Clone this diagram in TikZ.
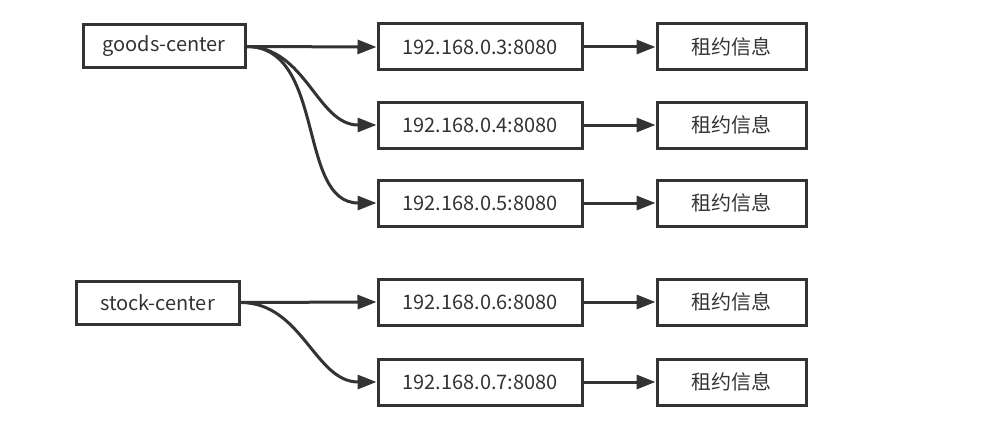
\documentclass[tikz,border=0pt]{standalone}
\usepackage{fontspec}
\setmainfont{Noto Sans CJK SC}
\usetikzlibrary{arrows.meta}
\definecolor{linegray}{HTML}{333333}
\tikzset{
  box/.style={draw=linegray, line width=3pt, inner sep=0pt, text=linegray,
    font=\fontsize{20}{24}\selectfont},
  link/.style={draw=linegray, line width=3pt, -{Triangle[length=19pt,width=14pt]}},
}
\begin{document}
\begin{tikzpicture}[x=1pt,y=-1pt]
  \useasboundingbox (0,0) rectangle (983,428);
  % services
  \node[box, minimum width=162pt, minimum height=43pt] (goods) at (164,46.5) {goods-center};
  \node[box, minimum width=163pt, minimum height=43pt] (stock) at (157.5,302.5) {stock-center};
  % instances and their lease info
  \foreach \i/\y in {3/47,4/125,5/203,6/302,7/382}{
    \node[box, minimum width=204pt, minimum height=46pt] (ip\i) at (480,\y) {192.168.0.\i:8080};
    \node[box, minimum width=149pt, minimum height=46pt] (info\i) at (731.5,\y) {租约信息};
    \draw[link] (ip\i) -- (info\i);
  }
  % goods-center
  \draw[link] (goods.east) -- (ip3.west);
  \foreach \i in {4,5}
    \draw[link] (goods.east) to[out=0,in=180] (ip\i.west);
  % stock-center
  \draw[link] (stock.east) -- (ip6.west);
  \draw[link] (stock.east) to[out=0,in=180] (ip7.west);
\end{tikzpicture}
\end{document}
